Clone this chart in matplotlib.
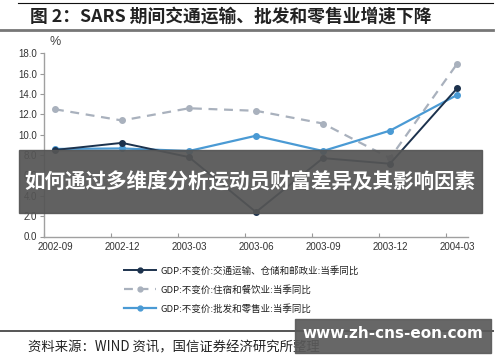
import numpy as np
import matplotlib
matplotlib.use("Agg")
import matplotlib.pyplot as plt
from matplotlib.patches import Rectangle
from matplotlib.lines import Line2D

plt.rcParams['font.family'] = ['Noto Sans CJK SC', 'DejaVu Sans']

# data
quarters = ['2002-09', '2002-12', '2003-03', '2003-06', '2003-09', '2003-12', '2004-03']
transport = [8.5, 9.2, 7.8, 2.4, 7.7, 7.15, 14.55]
hotel = [12.5, 11.4, 12.6, 12.35, 11.1, 7.7, 16.95]
retail = [8.6, 8.65, 8.4, 9.9, 8.4, 10.4, 13.9]
series_names = ['GDP:不变价:交通运输、仓储和邮政业:当季同比',
                'GDP:不变价:住宿和餐饮业:当季同比',
                'GDP:不变价:批发和零售业:当季同比']
yticks = np.arange(0, 18.1, 2.0)

W, H = 500, 362
fig = plt.figure(figsize=(W / 100, H / 100), dpi=100)
fig.patch.set_facecolor('white')

def fx(px):
    return px / W

def fy(py):
    return 1 - py / H

ax = fig.add_axes([fx(44), fy(236.5), fx(468) - fx(44), fy(53.3) - fy(236.5)])

x = np.arange(len(quarters)) + 0.164
ax.plot(x, hotel, color='#a9b1bd', lw=1.6, ls=(0, (4, 3)), marker='o', ms=4, label=series_names[1], zorder=2)
ax.plot(x, retail, color='#4a9ad4', lw=1.6, marker='o', ms=4, label=series_names[2], zorder=3)
ax.plot(x, transport, color='#1c324d', lw=1.4, marker='o', ms=4, label=series_names[0], zorder=4)

ax.set_xlim(0, 424 / 67)
ax.set_ylim(0, 18)
ax.set_yticks(yticks)
ax.set_yticklabels([f'{v:.1f}' for v in yticks], fontsize=7, color='#333333', family='Liberation Sans')
ax.set_xticks(np.arange(len(quarters)))
ax.set_xticklabels([])
ax.set_xticks(x, minor=True)
ax.set_xticklabels(quarters, minor=True, fontsize=7, color='#333333', family='Liberation Sans')
ax.tick_params(axis='x', which='major', direction='in', length=3, color='#999999')
ax.tick_params(axis='x', which='minor', length=0, pad=4)
ax.tick_params(axis='y', direction='out', length=3, color='#999999', pad=2)
for s in ['top', 'right']:
    ax.spines[s].set_visible(False)
for s in ['left', 'bottom']:
    ax.spines[s].set_color('#a0a0a0')
    ax.spines[s].set_linewidth(1.0)

fig.text(fx(49), fy(48), '%', fontsize=9, color='#444444', family='Liberation Sans', va='bottom')

# legend
handles = [Line2D([], [], color='#1c324d', lw=1.4, marker='o', ms=3.5),
           Line2D([], [], color='#a9b1bd', lw=1.6, ls=(0, (4, 3)), marker='o', ms=3.5),
           Line2D([], [], color='#4a9ad4', lw=1.6, marker='o', ms=3.5)]
fig.legend(handles, series_names, loc='upper left', bbox_to_anchor=(fx(120), fy(262)),
           frameon=False, fontsize=6.8, handlelength=3.4, labelspacing=1.0, handletextpad=0.5,
           borderaxespad=0, labelcolor='#222222')

# header and footer
fig.add_artist(Line2D([fx(18), fx(493)], [fy(3), fy(3)], color='#111111', lw=0.8))
fig.text(fx(30), fy(17), '图 2：SARS 期间交通运输、批发和零售业增速下降', fontsize=12.8,
         fontweight='bold', color='#222222', va='center', ha='left')
fig.add_artist(Line2D([fx(0), fx(493)], [fy(29.5), fy(29.5)], color='#777777', lw=2))
fig.add_artist(Line2D([fx(0), fx(493)], [fy(331), fy(331)], color='#555555', lw=1.4))
fig.text(fx(28), fy(347), '资料来源：WIND 资讯，国信证券经济研究所整理', fontsize=9.6,
         color='#222222', va='center', ha='left')

# overlay banners
fig.add_artist(Rectangle((fx(19), fy(213)), fx(482) - fx(19), fy(150) - fy(213),
                         transform=fig.transFigure, color='#555555', alpha=0.93, zorder=10))
fig.text(fx(250), fy(182), '如何通过多维度分析运动员财富差异及其影响因素', fontsize=14.8,
         fontweight='bold', color='white', ha='center', va='center', zorder=11)
fig.add_artist(Rectangle((fx(295), fy(353)), fx(491) - fx(295), fy(319) - fy(353),
                         transform=fig.transFigure, color='#5a5a5a', alpha=0.92, zorder=10))
fig.text(fx(393), fy(334), 'www.zh-cns-eon.com', fontsize=11, fontweight='bold',
         family='DejaVu Sans', color='white', ha='center', va='center', zorder=11)

fig.savefig('out.png', dpi=100, facecolor='white')
